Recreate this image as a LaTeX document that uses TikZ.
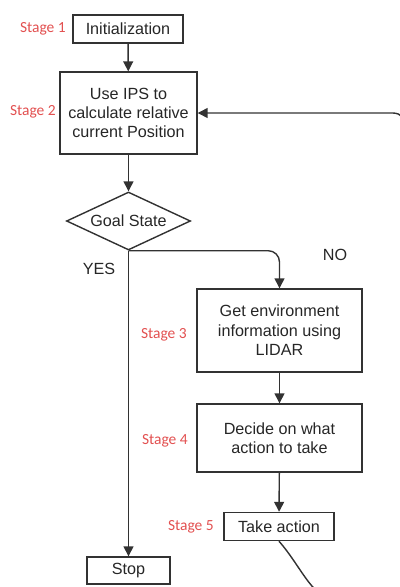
\documentclass[tikz,border=0pt]{standalone}
\usepackage{fontspec}
\setmainfont{Liberation Sans}
\newfontfamily\stagefont{Carlito}
\usetikzlibrary{shapes.geometric,arrows.meta}
\definecolor{stagered}{RGB}{226,80,80}
\definecolor{linegray}{RGB}{50,50,50}
\begin{document}
\begin{tikzpicture}[x=0.025cm,y=-0.025cm,
  box/.style={draw=linegray, line width=1pt, align=center, text=black!85,
    font=\fontsize{11.5}{13.8}\selectfont, inner sep=0pt},
  stage/.style={text=stagered, font=\stagefont\fontsize{11}{13}\selectfont,
    inner sep=0pt, anchor=east},
  answer/.style={text=black!85, font=\fontsize{11.5}{13.8}\selectfont, inner sep=0pt},
  flow/.style={draw=linegray, line width=1pt, -{Triangle[width=7pt,length=7pt]}}]
\useasboundingbox (0,0) rectangle (400,587);
\clip (0,0) rectangle (400,587);
% boxes
\node[box, minimum width=2.75cm, minimum height=0.7cm] (init) at (128,29){Initialization};
\node[box, minimum width=3.425cm, minimum height=2.05cm] (ips) at (128.5,113){Use IPS to\\calculate relative\\current Position};
\node[box, diamond, aspect=2.2, minimum width=3.1cm, minimum height=1.45cm] (goal) at (128.5,221){Goal State};
\node[box, minimum width=4.125cm, minimum height=2.075cm] (lidar) at (279.5,330.5){Get environment\\information using\\LIDAR};
\node[box, minimum width=4.125cm, minimum height=1.7cm] (decide) at (279.5,438){Decide on what\\action to take};
\node[box, minimum width=2.75cm, minimum height=0.7cm] (act) at (279,526.5){Take action};
\node[box, minimum width=2.075cm, minimum height=0.675cm] (stop) at (128.5,570.5){Stop};
% stage labels
\node[stage] (s1) at (66,29){Stage 1};
\node[stage] (s2) at (56,112){Stage 2};
\node[stage] (s3) at (187,335){Stage 3};
\node[stage] (s4) at (188,441){Stage 4};
\node[stage] (s5) at (214,527){Stage 5};
\node[answer] (yes) at (99,269){YES};
\node[answer] (no) at (335,255){NO};
% connectors
\draw[flow] (init) -- (ips);
\draw[flow] (ips) -- (goal);
\draw[flow] (goal.south) -- (stop);
\draw[flow, rounded corners=8] (goal.south) -| (lidar);
\draw[flow] (lidar) -- (decide);
\draw[flow] (decide) -- (act);
\draw[flow, rounded corners=10] (act.south) .. controls (300,565) and (312,597) .. (345,598)
  -- (407,598) -- (407,113) -- (ips.east);
\end{tikzpicture}
\end{document}
